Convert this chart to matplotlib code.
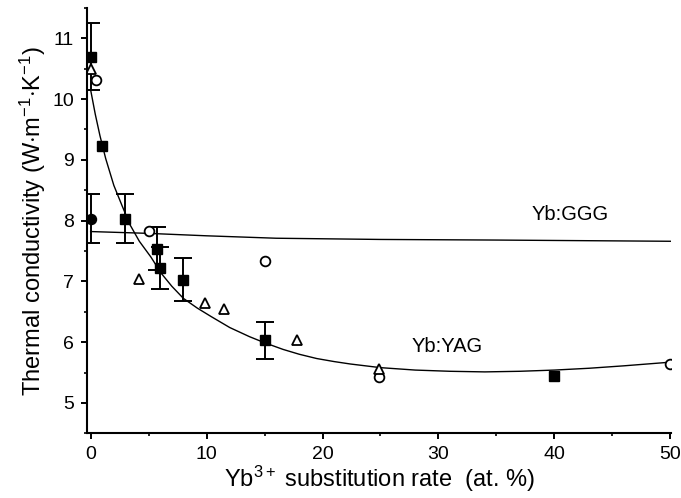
import matplotlib
matplotlib.use('Agg')
import matplotlib.pyplot as plt
from matplotlib.ticker import MultipleLocator

plt.rcParams['font.family'] = ['Liberation Sans', 'DejaVu Sans']
plt.rcParams['mathtext.fontset'] = 'custom'
plt.rcParams['mathtext.rm'] = 'Liberation Sans'
plt.rcParams['mathtext.it'] = 'Liberation Sans:italic'

# Yb:YAG measured points (filled squares), None = no error bar
sq_x = [0, 1, 3, 5.7, 6.0, 8, 15, 40]
sq_y = [10.7, 9.22, 8.03, 7.54, 7.22, 7.03, 6.03, 5.44]
sq_err = [0.55, None, 0.4, 0.35, 0.35, 0.35, 0.3, None]

# Yb:GGG measured point (filled circle)
gg_x = [0]
gg_y = [8.03]
gg_err = [0.4]

# literature values, open circles
oc_x = [0.45, 5.0, 15, 24.9, 50]
oc_y = [10.32, 7.83, 7.33, 5.43, 5.64]

# literature values, open triangles
tr_x = [0.05, 4.2, 9.85, 11.5, 17.8, 24.9]
tr_y = [10.5, 7.04, 6.64, 6.55, 6.04, 5.56]

# fit curves
yag_x = [0, 0.4, 0.8, 1.3, 2.0, 2.7, 3.4, 4.2, 5.2, 6.1, 7.0, 8.0, 9.2, 10.4, 12.0,
         13.7, 15.0, 16.6, 18.0, 19.5, 21.0, 22.4, 25, 28, 31, 34, 37, 40, 43, 46, 50]
yag_y = [10.15, 9.75, 9.4, 9.02, 8.58, 8.25, 7.93, 7.66, 7.4, 7.13, 6.92, 6.72, 6.56,
         6.42, 6.24, 6.09, 5.99, 5.88, 5.8, 5.73, 5.68, 5.64, 5.58, 5.54, 5.52, 5.51,
         5.52, 5.54, 5.57, 5.61, 5.67]
ggg_x = [0, 5, 10, 16, 25, 35, 50]
ggg_y = [7.82, 7.79, 7.75, 7.71, 7.69, 7.68, 7.66]

fig = plt.figure(figsize=(6.81, 4.98), dpi=100)
ax = fig.add_axes([0.128, 0.13, 0.858, 0.854])

ax.plot(yag_x, yag_y, color='black', lw=1.0)
ax.plot(ggg_x, ggg_y, color='black', lw=1.0)

# error bars only where there is one
ex = [x for x, e in zip(sq_x, sq_err) if e is not None]
ey = [y for y, e in zip(sq_y, sq_err) if e is not None]
ee = [e for e in sq_err if e is not None]
eb = dict(fmt='none', ecolor='black', elinewidth=1.4, capsize=6.5, capthick=1.4)
ax.errorbar(ex, ey, yerr=ee, **eb)
ax.errorbar(gg_x, gg_y, yerr=gg_err, **eb)

ax.plot(sq_x, sq_y, 's', color='black', ms=7.2, ls='none')
ax.plot(gg_x, gg_y, 'o', color='black', ms=7.2, ls='none')
ax.plot(oc_x, oc_y, 'o', mfc='white', mec='black', mew=1.3, ms=7, ls='none')
ax.plot(tr_x, tr_y, '^', mfc='white', mec='black', mew=1.3, ms=7.5, ls='none')

ax.text(38.0, 8.10, 'Yb:GGG', fontsize=14.5, va='center')
ax.text(27.7, 5.93, 'Yb:YAG', fontsize=14.5, va='center')

ax.set_xlim(-0.3, 50.1)
ax.set_ylim(4.5, 11.5)
ax.xaxis.set_major_locator(MultipleLocator(10))
ax.xaxis.set_minor_locator(MultipleLocator(5))
ax.yaxis.set_major_locator(MultipleLocator(1))
ax.yaxis.set_minor_locator(MultipleLocator(0.5))
ax.spines['top'].set_visible(False)
ax.spines['right'].set_visible(False)
for s in ('left', 'bottom'):
    ax.spines[s].set_linewidth(1.5)
ax.tick_params(which='major', direction='out', length=4.5, width=1.4, labelsize=14, pad=5)
ax.tick_params(which='minor', direction='out', length=2.5, width=1.2)

ax.set_xlabel('Yb$^{3+}$ substitution rate  (at. %)', fontsize=17, labelpad=0)
ax.set_ylabel('Thermal conductivity (W$\\cdot$m$^{-1}$$\\cdot$K$^{-1}$)', fontsize=17, labelpad=3)

fig.savefig('out.png', dpi=100)
